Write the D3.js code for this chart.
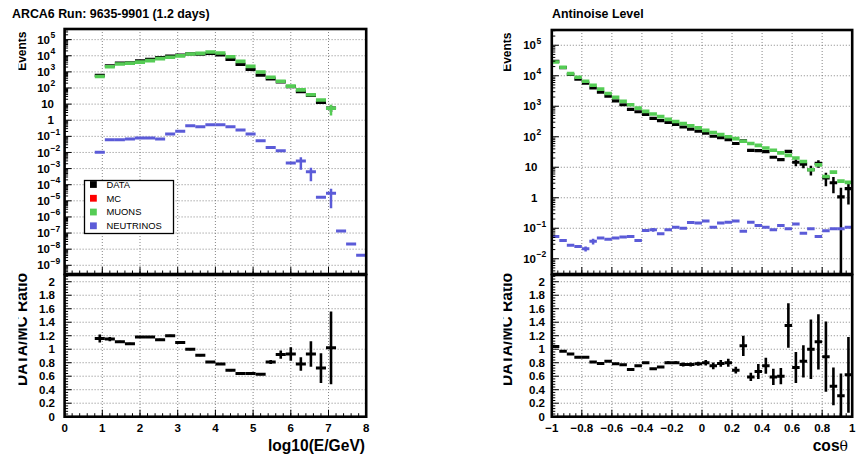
<!DOCTYPE html>
<html><head><meta charset="utf-8">
<script src="https://cdn.jsdelivr.net/npm/d3@7"></script>
<style>
html,body{margin:0;padding:0;background:#fff;}
svg{display:block;}
text{font-family:"Liberation Sans",Arial,Helvetica,sans-serif;}
</style></head><body>
<svg id="c" width="856" height="456"></svg>
<script>
// ---------- energy spectrum: 30 bins over log10(E/GeV) 0..8 ----------
const energyRange = [0, 8];
const energyBins = 30;
const energyData = [null,null,null,600,2400,3450,3650,4750,5900,7550,9600,10800,12900,12800,13800,11500,6000,2900,1400,620,370,240,120,59,35,13,5.6,null,null,null];
const energyDataErr = [0,0,0,0,0,0,0,0,0,0,0,0,0,0,0,0,0,0,0,0,0,0,0,0,0,0,2.4,0,0,0];
const energyMuons = [null,null,null,520,2100,3100,3400,4000,5000,6600,8000,9800,12900,14000,17000,14800,8700,4500,2200,980,460,260,130,76,38,18,5.5,null,null,null];
const energyMuonsErr = [0,0,0,0,0,0,0,0,0,0,0,0,0,0,0,0,0,0,0,0,0,0,0,0,0,0,3.5,0,0,0];
const energyNeutrinos = [null,null,null,0.0105,0.062,0.062,0.068,0.079,0.079,0.068,0.138,0.204,0.457,0.398,0.525,0.525,0.398,0.245,0.138,0.054,0.0204,0.0126,0.00224,0.00295,0.000646,1.66e-5,2.95e-5,1.35e-7,2.1e-8,4.2e-9];
const energyNeutrinosErr = [0,0,0,0,0,0,0,0,0,0,0,0,0,0,0,0,0,0,0,0,0,0,0,0.0021,0.00048,0,2.6e-5,0,0,0];
const energyRatio = [null,null,null,1.16,1.15,1.11,1.08,1.18,1.18,1.14,1.20,1.10,1.00,0.91,0.81,0.78,0.69,0.64,0.64,0.63,0.81,0.92,0.93,0.78,0.93,0.72,1.02,null,null,null];
const energyRatioErr = [0,0,0,0.06,0.03,0.015,0.015,0.015,0.015,0.015,0.015,0.015,0.015,0.015,0.015,0.015,0.015,0.015,0.015,0.015,0.03,0.06,0.10,0.10,0.19,0.22,0.54,0,0,0];

// ---------- zenith distribution: 40 bins over cos(theta) -1..1 ----------
const zenithRange = [-1, 1];
const zenithBins = 40;
const zenithData = [29500,18600,11000,7800,5750,4000,2880,2140,1510,1120,790,660,540,400,340,298,252,209,178,152,130,104,93,80,60,74,35.5,35,32.5,21.3,17.7,33,14.6,12.7,8.3,13.3,4.5,3.1,1.07,2.0];
const zenithDataErr = [0,0,0,0,0,0,0,0,0,0,0,0,0,0,0,0,0,0,0,0,0,0,0,0,0,0,0,0,0,0,0,0,3.8,3.5,2.9,3.6,2.1,1.7,1.07,1.4];
const zenithMuons = [28200,19100,11700,8900,6600,4900,3630,2630,1950,1450,1120,870,680,560,457,372,316,269,229,195,162,138,117,100,87,71,60,52,43,36,29.5,24.5,20,15.5,8.3,12,5.0,6.9,3.5,3.2];
const zenithNeutrinos = [0.0537,0.0398,0.0275,0.0251,0.0214,0.0372,0.0479,0.0437,0.0479,0.0513,0.0537,0.0398,0.0851,0.0891,0.0661,0.0891,0.107,0.100,0.155,0.148,0.174,0.107,0.148,0.158,0.174,0.0794,0.158,0.123,0.107,0.0891,0.123,0.0955,0.138,0.0692,0.0955,0.0537,0.0832,0.0955,0.0955,0.107];
const zenithNeutrinosErr = [0,0,0,0,0.004,0.008,0,0,0,0,0,0,0,0.012,0,0,0,0,0,0,0,0,0,0,0,0,0,0,0,0,0,0,0,0,0,0,0,0,0,0];
const zenithRatio = [1.04,0.97,0.93,0.88,0.88,0.81,0.79,0.82,0.785,0.77,0.70,0.755,0.80,0.71,0.735,0.80,0.80,0.775,0.775,0.785,0.80,0.755,0.79,0.80,0.69,1.05,0.59,0.67,0.755,0.59,0.60,1.35,0.73,0.82,1.00,1.11,0.89,0.45,0.31,0.62];
const zenithRatioErr = [0.01,0.01,0.01,0.01,0.01,0.01,0.01,0.01,0.01,0.01,0.01,0.01,0.01,0.01,0.01,0.02,0.02,0.03,0.03,0.03,0.04,0.05,0.05,0.06,0.05,0.15,0.06,0.11,0.12,0.12,0.12,0.33,0.23,0.24,0.44,0.41,0.52,0.28,0.33,0.56];

// ---------- tick labels ----------
const energyTicks = [0,1,2,3,4,5,6,7,8];
const zenithTicks = [-1,-0.8,-0.6,-0.4,-0.2,0,0.2,0.4,0.6,0.8,1];
const ratioTicks = [0,0.2,0.4,0.6,0.8,1,1.2,1.4,1.6,1.8,2];
const energyDecades = [-9,-8,-7,-6,-5,-4,-3,-2,-1,0,1,2,3,4,5];
const zenithDecades = [-2,-1,0,1,2,3,4,5];

const legendEntries = [
  {label: "DATA", color: "#000000"},
  {label: "MC", color: "#ff0000"},
  {label: "MUONS", color: "#55cc55"},
  {label: "NEUTRINOS", color: "#5b5bd8"}
];

const COL_DATA = "#000000", COL_MU = "#55cc55", COL_NU = "#5b5bd8";
const svg = d3.select("#c");
const defs = svg.append("defs");

function fmtTick(v) {
  const s = d3.format("~g")(Math.round(v * 100) / 100);
  return s.replace("-", "\u2212");
}

function drawPanel(o) {
  const g = svg.append("g");
  const x = d3.scaleLinear().domain(o.xDomain).range([o.left, o.right]);
  const yTop = d3.scaleLog().domain(o.logDomain).range([o.topBottom, o.top]);
  const yRat = d3.scaleLinear().domain([0, 2.1]).range([o.ratBottom, o.ratTop]);
  const n = o.bins;
  const w = (o.xDomain[1] - o.xDomain[0]) / n;
  const lo = i => o.xDomain[0] + i * w;

  // grid (dotted)
  const grid = g.append("g").attr("stroke", "#777").attr("stroke-width", 0.9)
    .attr("stroke-dasharray", "1,2").attr("fill", "none");
  o.xTicks.slice(1, -1).forEach(t => {
    grid.append("line").attr("x1", x(t)).attr("x2", x(t)).attr("y1", o.top).attr("y2", o.topBottom);
    grid.append("line").attr("x1", x(t)).attr("x2", x(t)).attr("y1", o.ratTop).attr("y2", o.ratBottom);
  });
  o.decades.forEach(d => {
    const yy = yTop(Math.pow(10, d));
    grid.append("line").attr("x1", o.left).attr("x2", o.right).attr("y1", yy).attr("y2", yy);
  });
  ratioTicks.slice(1).forEach(t => {
    grid.append("line").attr("x1", o.left).attr("x2", o.right).attr("y1", yRat(t)).attr("y2", yRat(t));
  });

  // histogram markers: horizontal bin bar + vertical error bar
  function hist(parent, yScale, vals, errs, color, thick, ethick, floor) {
    const gg = parent.append("g").attr("stroke", color).attr("fill", "none");
    vals.forEach((v, i) => {
      if (v == null) return;
      const yv = yScale(v);
      gg.append("line").attr("x1", x(lo(i))).attr("x2", x(lo(i + 1)))
        .attr("y1", yv).attr("y2", yv).attr("stroke-width", thick);
      const e = errs ? errs[i] : 0;
      if (e > 0) {
        const lowV = v - e > floor ? v - e : floor;
        gg.append("line").attr("x1", x(lo(i) + w / 2)).attr("x2", x(lo(i) + w / 2))
          .attr("y1", yScale(lowV)).attr("y2", yScale(v + e)).attr("stroke-width", ethick);
      }
    });
  }
  const clipId = "clip" + o.id;
  defs.append("clipPath").attr("id", clipId).append("rect")
    .attr("x", o.left).attr("y", o.top).attr("width", o.right - o.left).attr("height", o.topBottom - o.top);
  const clipR = "clipr" + o.id;
  defs.append("clipPath").attr("id", clipR).append("rect")
    .attr("x", o.left).attr("y", o.ratTop).attr("width", o.right - o.left).attr("height", o.ratBottom - o.ratTop);

  const top = g.append("g").attr("clip-path", `url(#${clipId})`);
  const floorTop = o.logDomain[0];
  hist(top, yTop, o.data, o.dataErr, COL_DATA, 3.2, 2.5, floorTop);
  hist(top, yTop, o.muons, o.muonsErr, COL_MU, 3.6, 2.5, floorTop);
  hist(top, yTop, o.neutrinos, o.neutrinosErr, COL_NU, 3, 2.5, floorTop);
  const rat = g.append("g").attr("clip-path", `url(#${clipR})`);
  hist(rat, yRat, o.ratio, o.ratioErr, COL_DATA, 3, 2.6, 0);

  // ticks
  const tk = g.append("g").attr("stroke", "#000").attr("stroke-width", 1);
  const xMinor = d3.range(o.xDomain[0], o.xDomain[1] + 1e-9, o.xMinor);
  [o.topBottom, o.ratBottom].forEach(yb => {
    xMinor.forEach(t => tk.append("line").attr("x1", x(t)).attr("x2", x(t)).attr("y1", yb).attr("y2", yb - 3.5));
    o.xTicks.forEach(t => tk.append("line").attr("x1", x(t)).attr("x2", x(t)).attr("y1", yb).attr("y2", yb - 7));
  });
  const d0 = Math.floor(Math.log10(o.logDomain[0])), d1 = Math.ceil(Math.log10(o.logDomain[1]));
  for (let d = d0; d <= d1; d++) {
    for (let k = 1; k <= 9; k++) {
      const v = k * Math.pow(10, d);
      if (v < o.logDomain[0] || v > o.logDomain[1]) continue;
      const yy = yTop(v);
      tk.append("line").attr("x1", o.left).attr("x2", o.left + (k === 1 ? 7 : 3.5)).attr("y1", yy).attr("y2", yy);
    }
  }
  d3.range(0, 2.1001, 0.04).forEach(t => {
    const major = Math.abs(t * 5 - Math.round(t * 5)) < 1e-6;
    tk.append("line").attr("x1", o.left).attr("x2", o.left + (major ? 7 : 3.5)).attr("y1", yRat(t)).attr("y2", yRat(t));
  });

  // frames
  g.append("rect").attr("x", o.left).attr("y", o.top).attr("width", o.right - o.left)
    .attr("height", o.topBottom - o.top).attr("fill", "none").attr("stroke", "#000").attr("stroke-width", 2.6);
  g.append("rect").attr("x", o.left).attr("y", o.ratTop).attr("width", o.right - o.left)
    .attr("height", o.ratBottom - o.ratTop).attr("fill", "none").attr("stroke", "#000").attr("stroke-width", 2.6);

  // labels
  const lab = g.append("g").attr("font-weight", "bold").attr("font-size", "11.5px").attr("fill", "#000");
  o.xTicks.forEach(t => lab.append("text").attr("x", x(t)).attr("y", 432).attr("text-anchor", "middle").text(fmtTick(t)));
  ratioTicks.forEach(t => lab.append("text").attr("x", o.ratioLabelX).attr("y", yRat(t) + 4.1)
    .attr("text-anchor", "end").text(fmtTick(t)));
  o.decades.forEach(d => {
    const yy = yTop(Math.pow(10, d)) + 4.1;
    if (d === 0 || d === 1) {
      lab.append("text").attr("x", o.logPlainX).attr("y", yy).attr("text-anchor", "end").text(d === 0 ? "1" : "10");
    } else {
      lab.append("text").attr("x", o.logBaseX).attr("y", yy).attr("text-anchor", "end").text("10");
      lab.append("text").attr("x", o.logBaseX + 0.6).attr("y", yy - 5.6).attr("font-size", "8.5px")
        .text(String(d).replace("-", "\u2212"));
    }
  });

  // axis titles, cut off by the pad's left edge
  const tclip = "tclip" + o.id;
  defs.append("clipPath").attr("id", tclip).append("rect")
    .attr("x", o.padLeft).attr("y", 0).attr("width", 400).attr("height", 456);
  const tg = g.append("g").attr("clip-path", `url(#${tclip})`).attr("font-weight", "bold");
  tg.append("text").attr("transform", `translate(${o.yTitleX},${o.top + 2.5}) rotate(-90)`)
    .attr("text-anchor", "end").attr("font-size", "12px").text("Events");
  tg.append("text").attr("transform", `translate(${o.yTitleX + 1},${o.ratTop - 2}) rotate(-90)`)
    .attr("text-anchor", "end").attr("font-size", "15.6px").text("DATA/MC Ratio");

  g.append("text").attr("x", o.titleX).attr("y", 17.5).attr("font-weight", "bold")
    .attr("font-size", "12.4px").text(o.title);
  const xt = g.append("text").attr("x", o.xTitleX).attr("y", 451).attr("text-anchor", "end")
    .attr("font-weight", "bold").attr("font-size", "15.6px");
  o.xTitle(xt);
  return {x, yTop};
}

const left = drawPanel({
  id: "L", xDomain: energyRange, bins: energyBins, left: 64.6, right: 366.2,
  top: 29, topBottom: 274, ratTop: 275, ratBottom: 416.7,
  logDomain: [Math.pow(10, -9.54), Math.pow(10, 5.66)], decades: energyDecades,
  xTicks: energyTicks, xMinor: 0.2,
  data: energyData, dataErr: energyDataErr, muons: energyMuons, muonsErr: energyMuonsErr,
  neutrinos: energyNeutrinos, neutrinosErr: energyNeutrinosErr,
  ratio: energyRatio, ratioErr: energyRatioErr,
  ratioLabelX: 55, logBaseX: 50, logPlainX: 54,
  padLeft: 18.5, yTitleX: 25.5,
  title: "ARCA6 Run: 9635-9901 (1.2 days)", titleX: 12, xTitleX: 365,
  xTitle: t => t.text("log10(E/GeV)")
});

const right = drawPanel({
  id: "R", xDomain: zenithRange, bins: zenithBins, left: 551.8, right: 852.2,
  top: 30, topBottom: 274, ratTop: 275, ratBottom: 416.7,
  logDomain: [Math.pow(10, -2.5), Math.pow(10, 5.5)], decades: zenithDecades,
  xTicks: zenithTicks, xMinor: 0.04,
  data: zenithData, dataErr: zenithDataErr, muons: zenithMuons, muonsErr: null,
  neutrinos: zenithNeutrinos, neutrinosErr: zenithNeutrinosErr,
  ratio: zenithRatio, ratioErr: zenithRatioErr,
  ratioLabelX: 545, logBaseX: 536, logPlainX: 537.5,
  padLeft: 503.5, yTitleX: 510.5,
  title: "Antinoise Level", titleX: 552, xTitleX: 848,
  xTitle: t => { t.append("tspan").text("cos"); t.append("tspan").attr("font-weight", "normal")
    .attr("font-family", "'DejaVu Serif','Liberation Serif',serif").attr("font-size", "14px").text("\u03b8"); }
});

// legend
const lg = svg.append("g");
lg.append("rect").attr("x", 84.5).attr("y", 180.5).attr("width", 89).attr("height", 53)
  .attr("fill", "#fff").attr("stroke", "#000").attr("stroke-width", 1.3);
const rowY = d3.scalePoint().domain(legendEntries.map(d => d.label)).range([184.5, 225.8]);
legendEntries.forEach(e => {
  lg.append("rect").attr("x", 90).attr("y", rowY(e.label) - 3.4).attr("width", 6.8).attr("height", 6.8).attr("fill", e.color);
  lg.append("text").attr("x", 106.5).attr("y", rowY(e.label) + 3.4).attr("font-size", "9.4px").text(e.label);
});
</script>
</body></html>
